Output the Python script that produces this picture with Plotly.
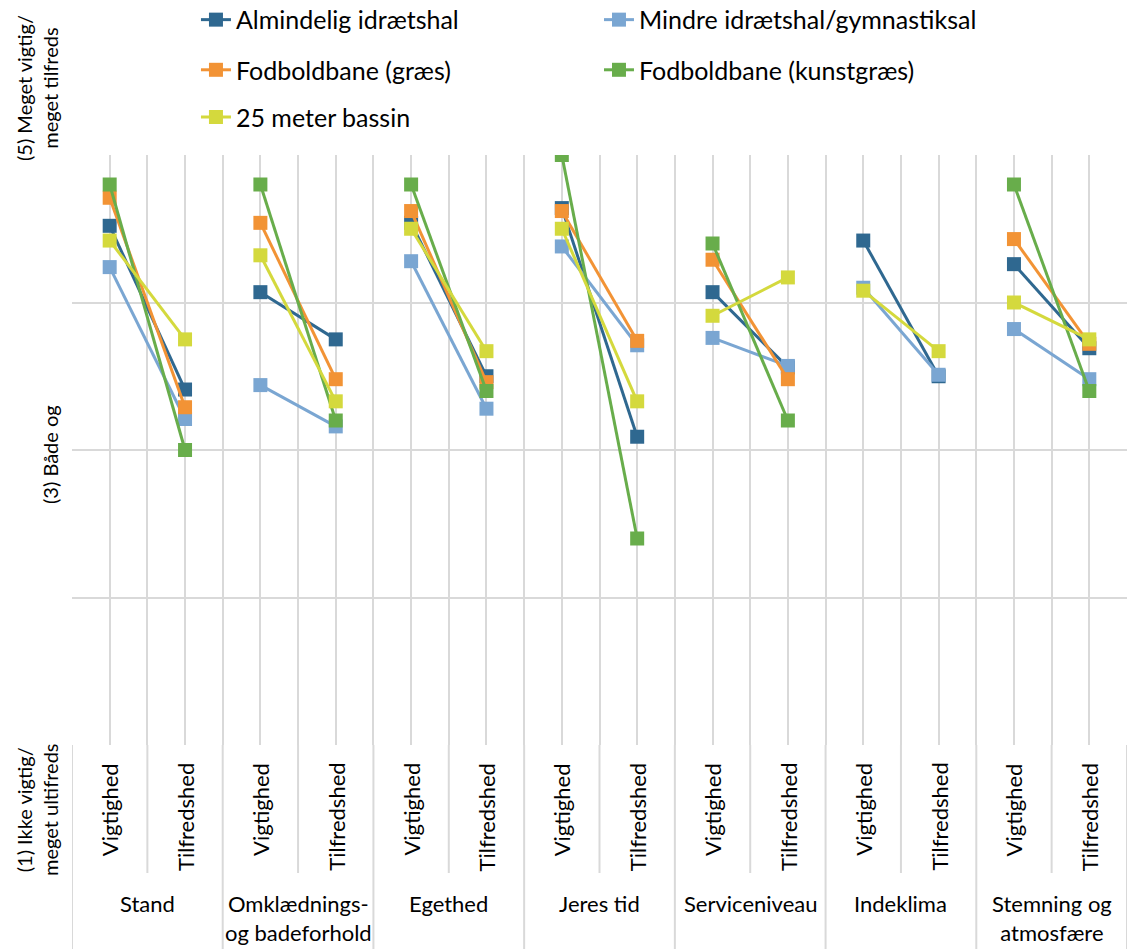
import plotly.graph_objects as go

# Categories
groups = ["Stand", "Omklædnings-<br>og badeforhold", "Egethed", "Jeres tid",
          "Serviceniveau", "Indeklima", "Stemning og<br>atmosfære"]
subcats = ["Vigtighed", "Tilfredshed"]

# Values per group: (Vigtighed, Tilfredshed); None = not measured
almindelig = [(4.52, 3.41), (4.07, 3.75), (4.54, 3.50), (4.64, 3.09),
              (4.07, 3.56), (4.42, 3.50), (4.26, 3.69)]
mindre = [(4.24, 3.21), (3.44, 3.16), (4.28, 3.28), (4.38, 3.71),
          (3.76, 3.57), (4.10, 3.51), (3.82, 3.48)]
graes = [(4.71, 3.29), (4.54, 3.48), (4.62, 3.46), (4.62, 3.74),
         (4.29, 3.48), (None, None), (4.43, 3.72)]
kunstgraes = [(4.80, 3.00), (4.80, 3.20), (4.80, 3.40), (5.00, 2.40),
              (4.40, 3.20), (None, None), (4.80, 3.40)]
bassin = [(4.42, 3.75), (4.32, 3.33), (4.50, 3.67), (4.50, 3.33),
          (3.91, 4.17), (4.08, 3.67), (4.00, 3.75)]

series = [
    ("Almindelig idrætshal", almindelig, "#2F6890"),
    ("Mindre idrætshal/gymnastiksal", mindre, "#7AA6D2"),
    ("Fodboldbane (græs)", graes, "#F29335"),
    ("Fodboldbane (kunstgræs)", kunstgraes, "#68AD4B"),
    ("25 meter bassin", bassin, "#D4D93D"),
]

FONT = "Lato"
GRID = "#d9d9d9"

fig = go.Figure()

# one trace per series, broken between groups
for i, (name, vals, color) in enumerate(series):
    xs, ys = [], []
    for g, (v, t) in enumerate(vals):
        xs += [g * 2 + 0.5, g * 2 + 1.5, None]
        ys += [v, t, None]
    fig.add_trace(go.Scatter(
        x=xs, y=ys, name=name, mode="lines+markers",
        line={"color": color, "width": 3},
        marker={"symbol": "square", "size": 14, "color": color},
        connectgaps=False, showlegend=True,
        legend="legend" if i == 0 else f"legend{i + 1}",
    ))

# legend positions (one legend per entry, two columns)
legend_pos = [(0.1175, 1.229), (0.4995, 1.229), (0.1175, 1.144), (0.4995, 1.144), (0.1175, 1.064)]
legends = {}
for i, (lx, ly) in enumerate(legend_pos):
    key = "legend" if i == 0 else f"legend{i + 1}"
    legends[key] = dict(x=lx, y=ly, xanchor="left", yanchor="middle", visible=True,
                        bgcolor="rgba(0,0,0,0)", font={"size": 25, "family": FONT, "color": "#000"})

annotations = []
# sub-category labels
for g in range(len(groups)):
    for s, lab in enumerate(subcats):
        annotations.append(dict(
            x=g * 2 + s + 0.5, y=0, xref="x", yref="paper", text=lab,
            textangle=-90, showarrow=False, xanchor="center", yanchor="top",
            yshift=-16, font={"size": 22, "family": FONT, "color": "#000"},
        ))
    annotations.append(dict(
        x=g * 2 + 1, y=0, xref="x", yref="paper", text=groups[g],
        showarrow=False, xanchor="center", yanchor="top", yshift=-143,
        font={"size": 22, "family": FONT, "color": "#000"},
    ))

# y-axis labels
ylabels = [("(5) Meget vigtig/<br>meget tilfreds", 37, 88),
           ("(3) Både og", 50, 455),
           ("(1) Ikke vigtig/<br>meget ultifreds", 37, 810)]
for text, px, py in ylabels:
    annotations.append(dict(
        x=(px - 72) / 1056, y=(745 - py) / 590, xref="paper", yref="paper",
        text=text, textangle=-90, showarrow=False, xanchor="center", yanchor="middle",
        font={"size": 20, "family": FONT, "color": "#000"},
    ))

# separators in the category label area
shapes = []
for k in range(0, 15, 2):
    shapes.append(dict(type="line", xref="x", yref="paper", x0=k, x1=k,
                       y0=0, y1=-0.36, line={"color": GRID, "width": 2}))
for k in range(1, 14, 2):
    shapes.append(dict(type="line", xref="x", yref="paper", x0=k, x1=k,
                       y0=0, y1=-0.217, line={"color": GRID, "width": 2}))

fig.update_layout(
    width=1129, height=949,
    margin={"l": 72, "r": 2, "t": 155, "b": 204, "autoexpand": False},
    paper_bgcolor="white", plot_bgcolor="white", showlegend=True,
    font={"family": FONT, "size": 20, "color": "#000"},
    xaxis={"range": [0, 14], "tick0": 0, "dtick": 0.5, "showgrid": True,
           "gridcolor": GRID, "gridwidth": 2, "showticklabels": False, "zeroline": False,
           "showline": False, "fixedrange": True},
    yaxis={"range": [1, 5], "dtick": 1, "showgrid": True, "gridcolor": GRID,
           "gridwidth": 2, "showticklabels": False, "zeroline": False, "fixedrange": True},
    annotations=annotations,
    shapes=shapes,
    **legends,
)

fig.write_html("out.html", config={"displayModeBar": False},
               post_script="document.body.style.margin = '0';")
